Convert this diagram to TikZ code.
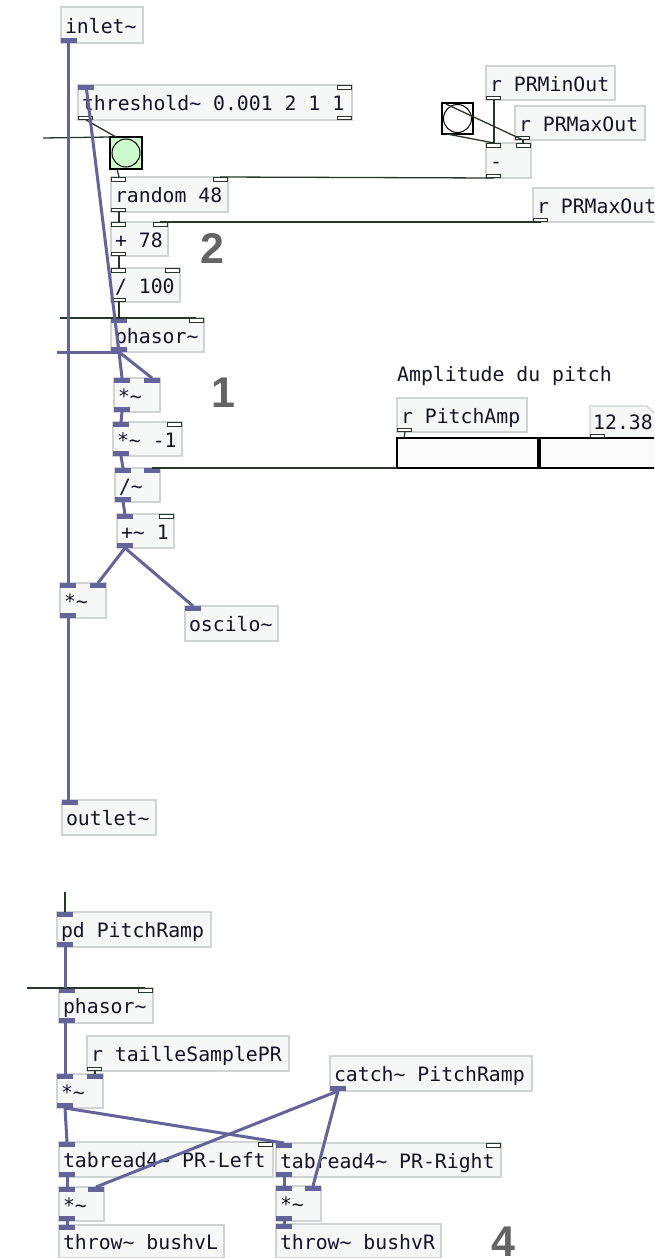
\documentclass[tikz,border=0pt]{standalone}
\usepackage{fontspec}
\setmonofont{DejaVu Sans Mono}
\newfontfamily\numfont{Liberation Sans}
\usetikzlibrary{calc}
\definecolor{sigc}{RGB}{100,100,155}
\definecolor{ctlc}{RGB}{40,56,40}
\definecolor{boxb}{RGB}{208,211,211}
\definecolor{boxf}{RGB}{246,248,248}
\definecolor{txtc}{RGB}{20,20,40}
\definecolor{lblc}{RGB}{100,100,100}
\definecolor{bangg}{RGB}{204,250,204}
\newcommand\pdtxt{\ttfamily\fontsize{19.8pt}{22pt}\selectfont}
\newcommand\tld{\textasciitilde}
\tikzset{
 obj/.style={draw=boxb, fill=boxf, line width=1.2pt, inner xsep=4pt, inner ysep=0pt, outer sep=0pt, text height=18pt, text depth=2pt, font=\pdtxt, text=txtc},
 sigline/.style={draw=sigc, line width=3pt},
 ctlline/.style={draw=ctlc, line width=1.3pt},
 sigio/.style={fill=sigc},
 ctlio/.style={draw=ctlc, fill=white, line width=1pt},
 lbl/.style={font={\numfont\bfseries\fontsize{43pt}{43pt}\selectfont}, text=lblc, inner sep=0pt, anchor=base west},
 bangbox/.style={draw=black, line width=2.5pt, minimum size=#1, anchor=north west, outer sep=0pt, inner sep=0pt},
}
\newcommand\pdbox[6]{%
 \node[obj, minimum height=#5pt, anchor=north west] (#1) at (#2,#3) {\hbox to \dimexpr#4pt-8pt\relax{#6\hss}};
 \coordinate (#1-i) at ($(#1.north west)+(8,0)$);
 \coordinate (#1-r) at ($(#1.north east)+(-8,0)$);
 \coordinate (#1-o) at ($(#1.south west)+(8,0)$);
}
\newcommand\ioSI[1]{\fill[sigio] (#1.north west) rectangle ++(16,5);}
\newcommand\ioSIR[1]{\fill[sigio] (#1.north east) rectangle ++(-16,5);}
\newcommand\ioSO[1]{\fill[sigio] (#1.south west) rectangle ++(16,-5);}
\newcommand\ioCI[1]{\draw[ctlio] ($(#1.north west)+(0.5,0.5)$) rectangle ++(14,3.5);}
\newcommand\ioCIR[1]{\draw[ctlio] ($(#1.north east)+(-0.5,0.5)$) rectangle ++(-14,3.5);}
\newcommand\ioCO[1]{\draw[ctlio] ($(#1.south west)+(0.5,-0.5)$) rectangle ++(14,-3.5);}
\begin{document}
\begin{tikzpicture}[x=1pt,y=-1pt]
\useasboundingbox (0,0) rectangle (654,1258);
\clip (0,0) rectangle (654,1258);
\fill[white] (0,0) rectangle (654,1258);

% ---- upper patch ----
\pdbox{inlet}{61}{7}{82}{36}{inlet\tld}
\coordinate (inlet-o) at ($(inlet.south west)+(7,0)$);
\pdbox{thr}{78}{85}{274}{35}{threshold\tld{} 0.001 2 1 1}
\pdbox{rnd}{111}{177}{117}{35}{random 48}
\pdbox{add78}{111}{222}{57}{34}{+ 78}
\pdbox{div100}{111}{268}{69}{34}{/ 100}
\pdbox{phasor1}{111}{318}{93}{34}{phasor\tld}
\pdbox{mul1}{114}{378}{46}{34}{*\tld}
\pdbox{mulm1}{113}{422}{69}{34}{*\tld{} -1}
\pdbox{divs}{115}{468}{45}{34}{/\tld}
\pdbox{addsig}{117}{514}{57}{34}{+\tld{} 1}
\pdbox{mulL}{60}{583}{46}{35}{*\tld}
\pdbox{oscilo}{185}{606}{93}{35}{oscilo\tld}
\pdbox{outlet}{62}{800}{94}{35}{outlet\tld}
\coordinate (outlet-i) at ($(outlet.north west)+(6,0)$);

\pdbox{rmin}{486}{66}{129}{34}{r PRMinOut}
\pdbox{rmax1}{515}{106}{130}{34}{r PRMaxOut}
\pdbox{minus}{486}{143}{45}{35}{-}
\pdbox{rmax2}{533}{188}{130}{34}{r PRMaxOut}
\pdbox{rpamp}{397}{398}{130}{34}{r PitchAmp}

\node[font=\pdtxt, text=txtc, inner sep=0pt, anchor=base west] (amptxt) at (397,381) {Amplitude du pitch};

% number box
\draw[draw=boxb, fill=boxf, line width=1.2pt] (590,406) -- (647,406) -- (656,415) -- (656,438) -- (590,438) -- cycle;
\node[font=\pdtxt, text=txtc, inner sep=0pt, anchor=base west] (numtxt) at (593,429) {12.38};

% slider
\node[draw=black, line width=1.5pt, fill=white!98!black, minimum width=330pt, minimum height=30pt, anchor=north west, outer sep=0pt, inner sep=0pt] (slider) at (397,438) {};
\coordinate (slider-i) at ($(slider.north west)+(7,0)$);
\coordinate (slider-o) at (slider.south west);
\fill[black] (537,438) rectangle (541,468);
\draw[ctlio] (590.5,434) rectangle (604.5,437.5);

% bangs
\node[bangbox=32pt, fill=bangg] (bangG) at (110,137) {};
\draw[black, line width=1pt] (bangG.center) circle (14);
\coordinate (bangG-i) at ($(bangG.north west)+(6,0)$);
\coordinate (bangG-o) at ($(bangG.south west)+(7,0)$);
\node[bangbox=31pt, fill=white] (bangW) at (442,103) {};
\draw[black, line width=1pt] (bangW.center) circle (14);
\coordinate (bangW-i) at ($(bangW.north west)+(4,1)$);
\coordinate (bangW-o) at ($(bangW.south west)+(5,0)$);

% ---- lower patch ----
\pdbox{pdpr}{57}{912}{154}{35}{pd PitchRamp}
\pdbox{phasor2}{59}{988}{94}{35}{phasor\tld}
\coordinate (phasor2-i) at ($(phasor2.north west)+(6,0)$);
\coordinate (phasor2-o) at ($(phasor2.south west)+(6,0)$);
\pdbox{rtaille}{87}{1036}{202}{35}{r tailleSamplePR}
\pdbox{mulA}{57}{1074}{46}{34}{*\tld}
\pdbox{catch}{330}{1056}{202}{35}{catch\tld{} PitchRamp}
\pdbox{tabL}{59}{1142}{214}{35}{tabread4\tld{} PR-Left}
\pdbox{tabR}{276}{1143}{225}{34}{tabread4\tld{} PR-Right}
\pdbox{mulB}{59}{1187}{45}{34}{*\tld}
\pdbox{mulC}{276}{1186}{45}{35}{*\tld}
\pdbox{throwL}{59}{1225}{165}{33}{throw\tld{} bushvL}
\pdbox{throwR}{276}{1224}{165}{34}{throw\tld{} bushvR}

% ---- iolets ----
\ioSO{inlet}
\ioSI{thr}\ioCIR{thr}\ioCO{thr}
\draw[ctlio] ($(thr.south east)+(-0.5,-0.5)$) rectangle ++(-14,-3.5);
\ioCI{rnd}\ioCIR{rnd}\ioCO{rnd}
\ioCI{add78}\ioCIR{add78}\ioCO{add78}
\ioCI{div100}\ioCIR{div100}\ioCO{div100}
\ioSI{phasor1}\ioCIR{phasor1}\ioSO{phasor1}
\ioSI{mul1}\ioSIR{mul1}\ioSO{mul1}
\ioSI{mulm1}\ioCIR{mulm1}\ioSO{mulm1}
\ioSI{divs}\ioSIR{divs}\ioSO{divs}
\ioSI{addsig}\ioCIR{addsig}\ioSO{addsig}
\ioSI{mulL}\ioSIR{mulL}\ioSO{mulL}
\ioSI{oscilo}
\ioSI{outlet}
\ioCO{rmin}\ioCO{rmax1}\ioCO{rmax2}\ioCO{rpamp}
\ioCI{minus}\ioCIR{minus}\ioCO{minus}
\ioSI{pdpr}\ioSO{pdpr}
\ioSI{phasor2}\ioCIR{phasor2}\ioSO{phasor2}
\ioCO{rtaille}
\ioSI{mulA}\ioSIR{mulA}\ioSO{mulA}
\ioSO{catch}
\ioSI{tabL}\ioCIR{tabL}\ioSO{tabL}
\ioSI{tabR}\ioCIR{tabR}\ioSO{tabR}
\ioSI{mulB}\ioSIR{mulB}\ioSO{mulB}
\ioSI{mulC}\ioSIR{mulC}\ioSO{mulC}
\ioSI{throwL}\ioSI{throwR}

% free ends
\coordinate (dA) at (57,352);
\coordinate (dB) at (43,138);
\coordinate (dC) at (60,318);
\coordinate (dD) at (27,988);
\coordinate (dE) at (65,892);

% ---- control connections ----
\draw[ctlline] (thr-o) -- (bangG-i);
\draw[ctlline] (dB) -- (bangG.north west);
\draw[ctlline] (bangG-o) -- (rnd-i);
\draw[ctlline] (minus-o) -- (rnd-r);
\draw[ctlline] (rnd-o) -- (add78-i);
\draw[ctlline] (rmax2-o) -- (add78-r);
\draw[ctlline] (add78-o) -- (div100-i);
\draw[ctlline] (div100-o) -- (phasor1-i);
\draw[ctlline] (dC) -- (phasor1-r);
\draw[ctlline] (rmin-o) -- (minus-i);
\draw[ctlline] (rmax1-o) -- (minus-r);
\draw[ctlline] (rmax1-o) -- (bangW-i);
\draw[ctlline] (bangW-o) -- (minus-i);
\draw[ctlline] (slider-o) -- (divs-r);
\draw[ctlline] (rpamp-o) -- (slider-i);
\draw[ctlline] (dD) -- (phasor2-r);
\draw[ctlline] (dE) -- (pdpr-i);
\draw[ctlline] (rtaille-o) -- (mulA-r);

% ---- signal connections ----
\draw[sigline] (inlet-o) -- (mulL-i);
\draw[sigline] (phasor1-o) -- (thr-i);
\draw[sigline] (phasor1-o) -- (mul1-i);
\draw[sigline] (phasor1-o) -- (mul1-r);
\draw[sigline] (phasor1-o) -- (dA);
\draw[sigline] (mul1-o) -- (mulm1-i);
\draw[sigline] (mulm1-o) -- (divs-i);
\draw[sigline] (divs-o) -- (addsig-i);
\draw[sigline] (addsig-o) -- (mulL-r);
\draw[sigline] (addsig-o) -- (oscilo-i);
\draw[sigline] (mulL-o) -- (outlet-i);
\draw[sigline] (pdpr-o) -- (phasor2-i);
\draw[sigline] (phasor2-o) -- (mulA-i);
\draw[sigline] (mulA-o) -- (tabL-i);
\draw[sigline] (mulA-o) -- (tabR-i);
\draw[sigline] (tabL-o) -- (mulB-i);
\draw[sigline] (tabR-o) -- (mulC-i);
\draw[sigline] (catch-o) -- (mulB-r);
\draw[sigline] (catch-o) -- (mulC-r);
\draw[sigline] (mulB-o) -- (throwL-i);
\draw[sigline] (mulC-o) -- (throwR-i);

% ---- section labels ----
\node[lbl] (n2) at (200,263) {2};
\node[lbl] (n1) at (211,407) {1};
\node[lbl] (n4) at (491,1256) {4};
\end{tikzpicture}
\end{document}
